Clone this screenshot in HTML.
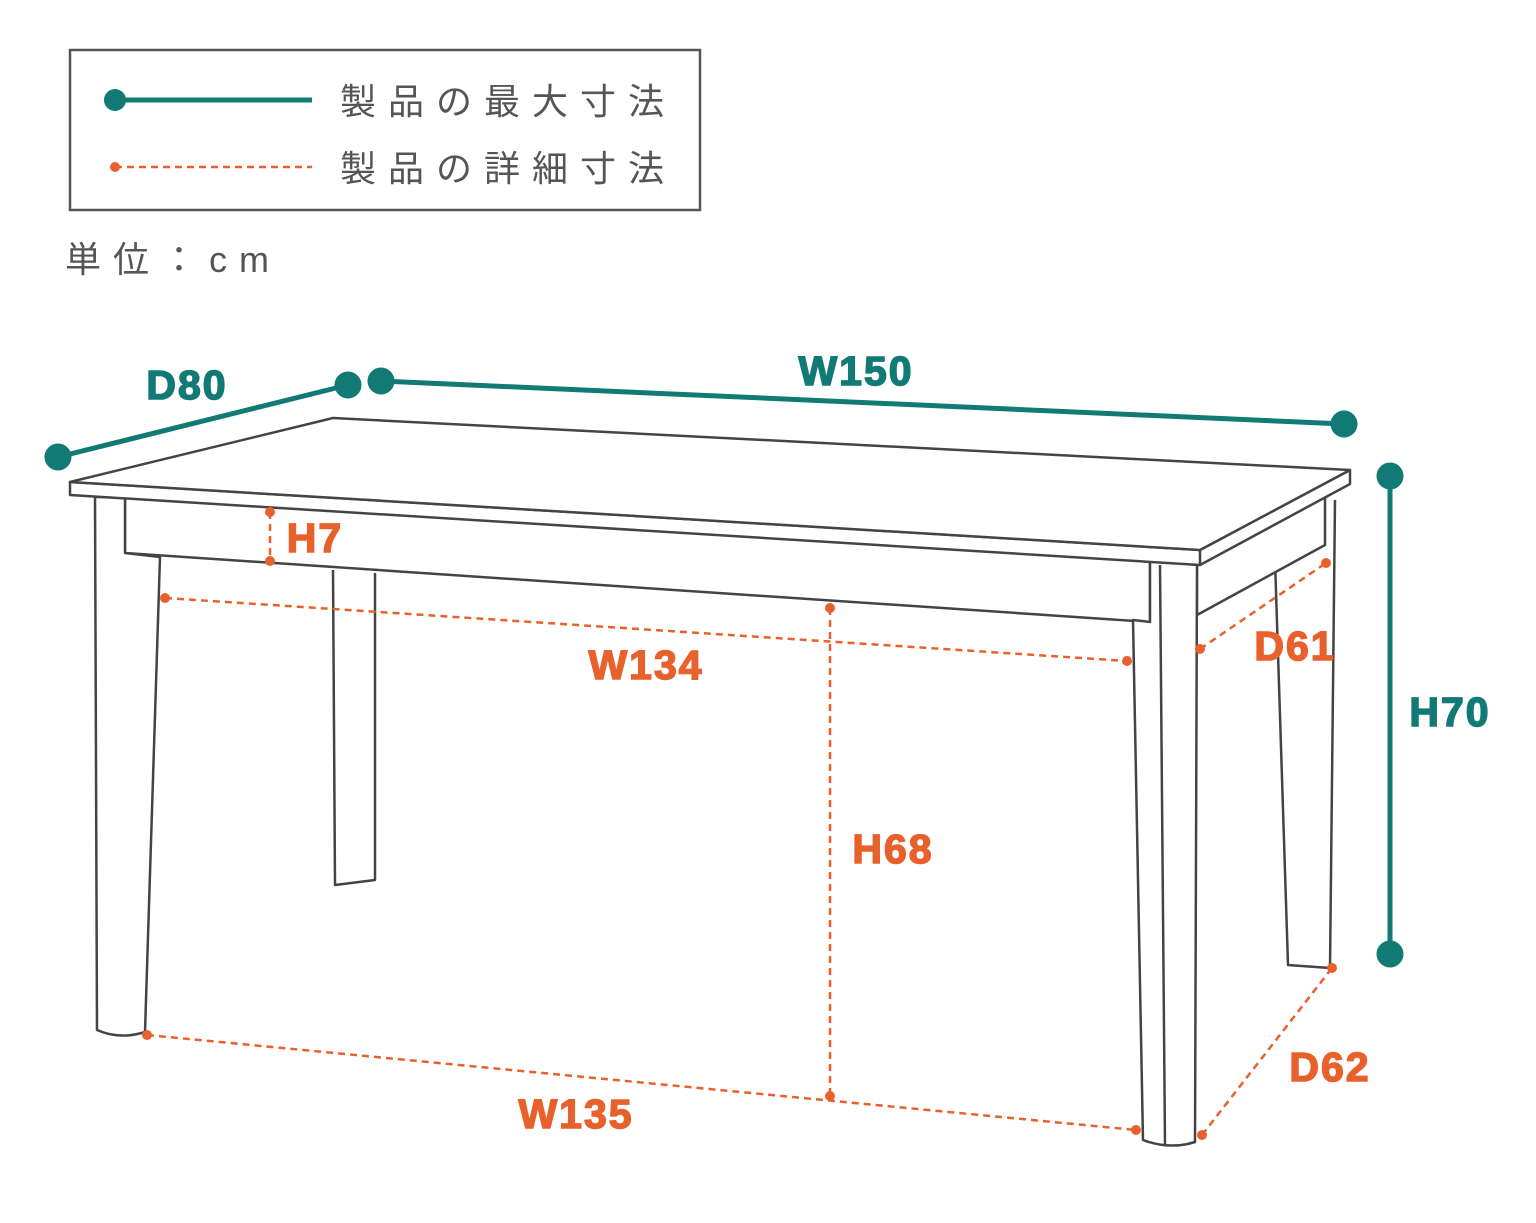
<!DOCTYPE html>
<html><head><meta charset="utf-8"><style>
html,body{margin:0;padding:0;background:#fff;}
svg{display:block;}
.jp{font-family:"Liberation Sans","Noto Sans CJK JP",sans-serif;fill:#555;font-size:36px;letter-spacing:12px;}
.t{font-family:"Liberation Sans",sans-serif;font-weight:bold;font-size:41px;fill:#117a74;stroke:#117a74;stroke-width:1.5;letter-spacing:2px;text-anchor:middle;dominant-baseline:central;}
.o{font-family:"Liberation Sans",sans-serif;font-weight:bold;font-size:41px;fill:#e8612c;stroke:#e8612c;stroke-width:1.5;letter-spacing:2px;text-anchor:middle;dominant-baseline:central;}
</style></head><body>
<svg width="1536" height="1223" viewBox="0 0 1536 1223" xmlns="http://www.w3.org/2000/svg">
<rect x="70" y="50" width="630" height="160" fill="none" stroke="#555" stroke-width="2.5"/>
<line x1="115" y1="100" x2="312" y2="100" stroke="#117a74" stroke-width="5"/>
<circle cx="115" cy="100" r="11" fill="#117a74"/>
<line x1="115" y1="167" x2="312" y2="167" stroke="#e8612c" stroke-width="2.5" stroke-dasharray="7,5"/>
<circle cx="115" cy="167" r="5" fill="#e8612c"/>
<text class="jp" x="340" y="114">製品の最大寸法</text>
<text class="jp" x="340" y="181">製品の詳細寸法</text>
<text class="jp" x="65" y="272">単位：cm</text>

<g fill="#fff" stroke="#444" stroke-width="2.5" stroke-linejoin="round">
<path d="M333,570 L335,885 L375,880 L375,573"/>
<path d="M1275,560 L1288,965 L1330,968 L1335,500"/>
<path d="M1197,565 L1197,615 L1325,545 L1325,490"/>
<path d="M125,498 L125,553 L1150,622 L1150,560 Z"/>
<path d="M95,497 L97,1030 Q120,1040 145,1032 L160,557 L125,553 L125,497 Z"/>
<path d="M1133,620 L1143,1140 Q1170,1150 1195,1142 L1197,565 L1150,560 L1150,622 Z"/>
<line x1="1160" y1="565" x2="1165" y2="1145"/>
<path d="M70,482 L70,495 L1200,565 L1350,484 L1350,470 L1200,550 Z"/>
<path d="M333,418 L1350,470 L1200,550 L70,482 Z"/>
<line x1="1200" y1="550" x2="1200" y2="565"/>
</g>

<g stroke="#117a74" stroke-width="5" fill="#117a74">
<line x1="58" y1="457" x2="348" y2="385"/>
<circle cx="58" cy="457" r="11"/><circle cx="348" cy="385" r="11"/>
<line x1="381" y1="381" x2="1344" y2="424"/>
<circle cx="381" cy="381" r="11"/><circle cx="1344" cy="424" r="11"/>
<line x1="1390" y1="476" x2="1390" y2="954"/>
<circle cx="1390" cy="476" r="11"/><circle cx="1390" cy="954" r="11"/>
</g>
<text class="t" x="187" y="385">D80</text>
<text class="t" x="856" y="371">W150</text>
<text class="t" x="1450" y="712">H70</text>

<g stroke="#e8612c" stroke-width="2.5" stroke-dasharray="7,5" fill="none">
<line x1="270" y1="512" x2="270" y2="561"/>
<line x1="165" y1="598" x2="1127" y2="661"/>
<line x1="830" y1="608" x2="830" y2="1096"/>
<line x1="1200" y1="649" x2="1326" y2="563"/>
<line x1="147" y1="1035" x2="1136" y2="1130"/>
<line x1="1202" y1="1135" x2="1332" y2="968"/>
</g>
<g fill="#e8612c">
<circle cx="270" cy="512" r="5"/><circle cx="270" cy="561" r="5"/>
<circle cx="165" cy="598" r="5"/><circle cx="1127" cy="661" r="5"/>
<circle cx="830" cy="608" r="5"/><circle cx="830" cy="1096" r="5"/>
<circle cx="1200" cy="649" r="5"/><circle cx="1326" cy="563" r="5"/>
<circle cx="147" cy="1035" r="5"/><circle cx="1136" cy="1130" r="5"/>
<circle cx="1202" cy="1135" r="5"/><circle cx="1332" cy="968" r="5"/>
</g>
<text class="o" x="315" y="538">H7</text>
<text class="o" x="646" y="665">W134</text>
<text class="o" x="893" y="849">H68</text>
<text class="o" x="1295" y="646">D61</text>
<text class="o" x="576" y="1114">W135</text>
<text class="o" x="1330" y="1067">D62</text>
</svg>
</body></html>
